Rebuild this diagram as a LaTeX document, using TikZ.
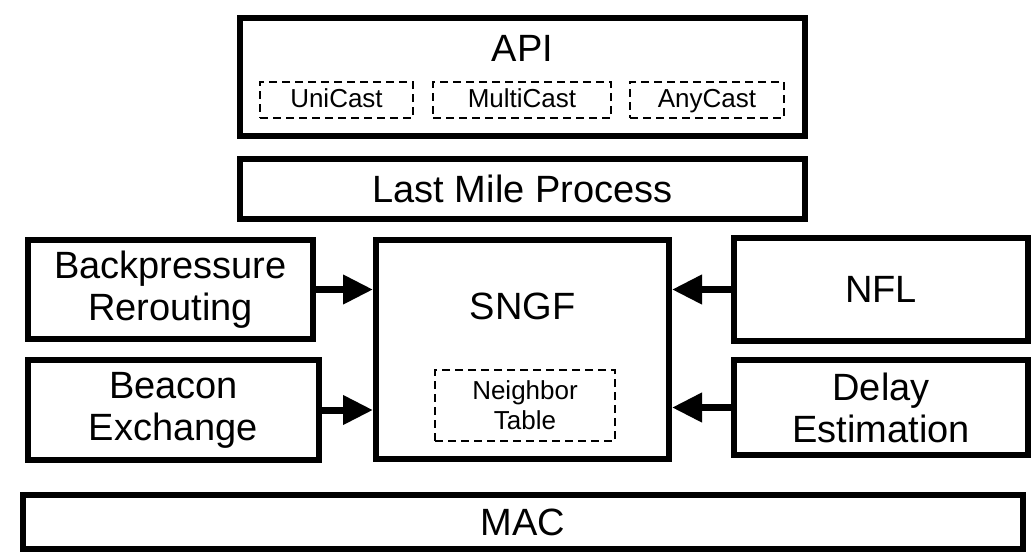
\documentclass[tikz,border=0pt]{standalone}
\usepackage{fontspec}
\setmainfont{Liberation Sans}
\usetikzlibrary{calc}
\usetikzlibrary{arrows.meta}

\begin{document}
\begin{tikzpicture}[x=0.5pt,y=-0.5pt,
  blk/.style={draw, line width=3pt, rectangle, align=center, inner sep=0pt,
    font=\fontsize{19}{21}\selectfont},
  dbox/.style={draw, line width=0.8pt, dash pattern=on 4pt off 2.5pt, rectangle,
    align=center, inner sep=0pt, font=\fontsize{13}{15}\selectfont},
  cast/.style={dbox, minimum height=18pt, text height=9.5pt, text depth=2.5pt},
  feed/.style={line width=3.5pt, -{Triangle[length=15pt,width=14pt]}}]
\useasboundingbox (0,0) rectangle (1032,553);
% top of the stack
\node[blk, minimum width=282.5pt, minimum height=59pt] (api) at (522.5,77) {};
\node[font=\fontsize{19}{21}\selectfont] (apit) at (522.5,48) {API};
\node[cast, minimum width=76.5pt] (uni) at (336.5,100) {UniCast};
\node[cast, minimum width=89pt] (multi) at (522,100) {MultiCast};
\node[cast, minimum width=77pt] (any) at (707,100) {AnyCast};
\node[blk, minimum width=282.5pt, minimum height=30pt] (lmp) at (522.5,189) {Last Mile Process};
% middle row
\node[blk, minimum width=142.5pt, minimum height=49.5pt] (bp) at (170.5,289.5) {Backpressure\\Rerouting};
\node[blk, minimum width=145.5pt, minimum height=50pt] (beacon) at (173.5,410) {Beacon\\Exchange};
\node[blk, minimum width=146.5pt, minimum height=109.5pt] (sngf) at (522.5,349.5) {};
\node[font=\fontsize{19}{21}\selectfont] (sngft) at (522.5,306) {SNGF};
\node[dbox, minimum width=90pt, minimum height=35.5pt] (ntab) at (525,405.5) {Neighbor\\Table};
\node[blk, minimum width=147pt, minimum height=51.5pt] (nfl) at (881,289.5) {NFL};
\node[blk, minimum width=147pt, minimum height=47.5pt] (delay) at (881,407.5) {Delay\\Estimation};
% bottom
\node[blk, minimum width=500pt, minimum height=27pt] (mac) at (523,522) {MAC};
% inputs into SNGF
\draw[feed] (bp.east) -- (bp.east -| sngf.west);
\draw[feed] (beacon.east) -- (beacon.east -| sngf.west);
\draw[feed] (nfl.west) -- (nfl.west -| sngf.east);
\draw[feed] (delay.west) -- (delay.west -| sngf.east);
\end{tikzpicture}
\end{document}
